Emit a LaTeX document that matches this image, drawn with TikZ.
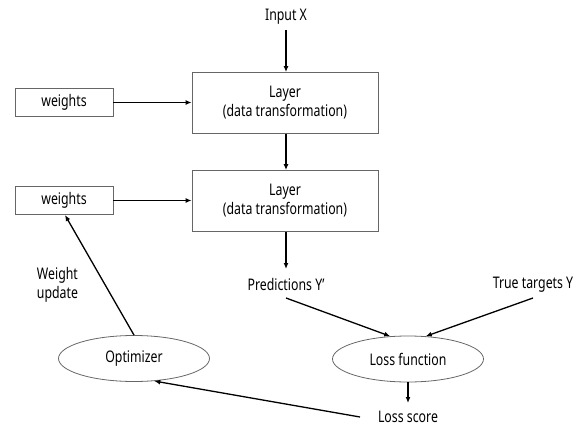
\documentclass[tikz,border=0pt]{standalone}
\usepackage{fontspec}
\setmainfont{Noto Sans}[FakeStretch=0.77]
\usetikzlibrary{shapes.geometric,arrows.meta}
\tikzset{
  box/.style={draw=black!60, line width=0.8pt, rectangle, inner sep=0pt, align=center},
  layerbox/.style={box, minimum width=186pt, minimum height=61pt},
  wbox/.style={box, minimum width=98pt, minimum height=28pt},
  oval/.style={draw=black!60, line width=0.8pt, ellipse, inner sep=0pt, minimum width=151pt, minimum height=46pt},
  lbl/.style={inner sep=0pt, align=center},
  flow/.style={line width=1.3pt, -{Latex[length=6pt,width=5pt]}},
  every node/.append style={font=\fontsize{16}{19}\selectfont}
}
\begin{document}
\begin{tikzpicture}[x=1pt,y=-1pt]
  \useasboundingbox (0,0) rectangle (584,428);
  % data path
  \node[lbl] (in) at (286,16.5) {Input X};
  \node[layerbox] (l1) at (285,103) {Layer\\(data transformation)};
  \node[layerbox] (l2) at (285,201) {Layer\\(data transformation)};
  \node[wbox] (w1) at (64,102.5) {weights};
  \node[wbox] (w2) at (64,200.5) {weights};
  \node[lbl] (pred) at (286,284.5) {Predictions Y’};
  \node[lbl] (true) at (533,284.5) {True targets Y};
  \node[oval] (loss) at (408,359) {Loss function};
  \node[oval] (opt) at (134,358.5) {Optimizer};
  \node[lbl, anchor=base] (score) at (408,422) {Loss score};
  \node[lbl, align=left] (wu) at (57.5,285) {Weight\\update};
  % free ends of the connectors
  \coordinate (inEnd) at (286,30);
  \coordinate (predTop) at (286,269);
  \coordinate (predOut) at (286,298);
  \coordinate (trueOut) at (533,298);
  \coordinate (scoreOut) at (360,417);
  \coordinate (scoreIn) at (408,403);
  % connectors
  \draw[flow] (inEnd) -- (inEnd |- l1.north);
  \draw[flow] (w1.east) -- (l1.west |- w1.east);
  \draw[flow] (inEnd |- l1.south) -- (inEnd |- l2.north);
  \draw[flow] (w2.east) -- (l2.west |- w2.east);
  \draw[flow] (inEnd |- l2.south) -- (predTop);
  \draw[flow] (predOut) -- (loss.128);
  \draw[flow] (trueOut) -- (loss.52);
  \draw[flow] (loss.south) -- (scoreIn);
  \draw[flow] (scoreOut) -- (opt.-48);
  \draw[flow] (opt.north) -- (65,215);
\end{tikzpicture}
\end{document}
